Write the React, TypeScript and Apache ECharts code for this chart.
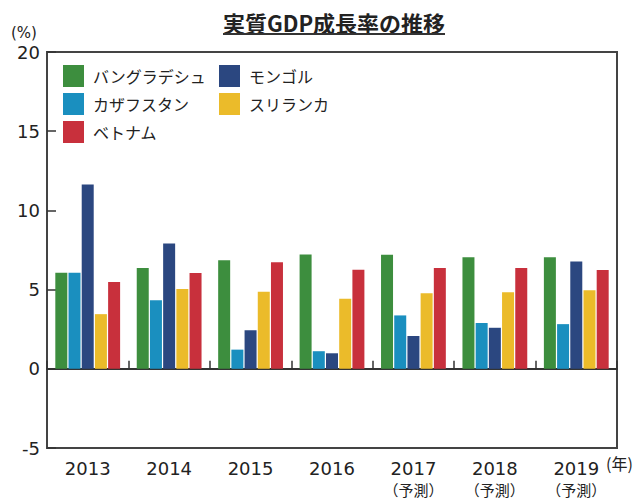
import React, { useEffect, useRef } from "react";
import * as echarts from "echarts";

const years = ["2013", "2014", "2015", "2016", "2017", "2018", "2019"];
const forecastYears = ["2017", "2018", "2019"];
const seriesNames = ["バングラデシュ", "カザフスタン", "モンゴル", "スリランカ", "ベトナム"];
const bangladesh = [6.07, 6.36, 6.86, 7.22, 7.2, 7.05, 7.05];
const kazakhstan = [6.07, 4.33, 1.21, 1.11, 3.37, 2.89, 2.82];
const mongolia = [11.63, 7.91, 2.43, 0.98, 2.07, 2.59, 6.78];
const sriLanka = [3.45, 5.04, 4.87, 4.43, 4.77, 4.83, 4.96];
const vietnam = [5.48, 6.05, 6.72, 6.26, 6.36, 6.36, 6.23];
const yTicks = { min: -5, max: 20, interval: 5 };
const colors = ["#3d8e3e", "#1a8fbf", "#2b4780", "#ebbb2a", "#c8303c"];

export default function App() {
  const ref = useRef<HTMLDivElement>(null);
  useEffect(() => {
    if (!ref.current) return;
    const chart = echarts.init(ref.current, null, { renderer: "svg" });
    const values = [bangladesh, kazakhstan, mongolia, sriLanka, vietnam];
    const numFont = "'DejaVu Sans', sans-serif";
    const cjkFont = "'Noto Sans CJK JP', sans-serif";
    chart.setOption({
      animation: false,
      color: colors,
      grid: {
        left: 47,
        right: 27,
        top: 52,
        bottom: 48,
        show: true,
        borderColor: "#444",
        borderWidth: 2,
        backgroundColor: "transparent",
      },
      legend: [
        {
          orient: "vertical",
          left: 63,
          top: 65,
          padding: 0,
          itemWidth: 21,
          itemHeight: 22,
          itemGap: 6,
          icon: "rect",
          data: [seriesNames[0], seriesNames[1], seriesNames[4]],
          textStyle: { fontSize: 16, fontFamily: cjkFont, color: "#222", padding: [0, 0, 0, 4] },
        },
        {
          orient: "vertical",
          left: 219,
          top: 65,
          padding: 0,
          itemWidth: 21,
          itemHeight: 22,
          itemGap: 6,
          icon: "rect",
          data: [seriesNames[2], seriesNames[3]],
          textStyle: { fontSize: 16, fontFamily: cjkFont, color: "#222", padding: [0, 0, 0, 4] },
        },
      ],
      xAxis: [
        {
          type: "category",
          data: years,
          position: "bottom",
          axisLine: { show: false, onZero: false },
          axisTick: { show: false },
          axisLabel: {
            interval: 0,
            margin: 10,
            color: "#222",
            fontSize: 18,
            fontFamily: numFont,
            lineHeight: 21,
            formatter: (v: string) =>
              forecastYears.includes(v) ? v + "\n{s|（予測）}" : v,
            rich: {
              s: { fontSize: 15, fontFamily: cjkFont, color: "#222", lineHeight: 21 },
            },
          },
        },
        {
          type: "category",
          data: years,
          position: "bottom",
          axisLine: { show: true, onZero: true, lineStyle: { color: "#333", width: 2 } },
          axisTick: { show: true, inside: true, interval: 0, length: 8, lineStyle: { color: "#333", width: 1.5 } },
          axisLabel: { show: false },
        },
      ],
      yAxis: {
        type: "value",
        min: yTicks.min,
        max: yTicks.max,
        interval: yTicks.interval,
        axisLine: { show: false },
        axisTick: { show: true, inside: true, length: 9, lineStyle: { color: "#333", width: 1.5 } },
        splitLine: { show: false },
        axisLabel: { margin: 7, color: "#222", fontSize: 18, fontFamily: numFont },
      },
      series: seriesNames.map((name, i) => ({
        name,
        type: "bar",
        xAxisIndex: 0,
        yAxisIndex: 0,
        data: values[i],
        barWidth: 12,
        barGap: "10%",
      })),
      graphic: [
        {
          type: "text",
          x: 334,
          y: 22,
          style: {
            text: "実質GDP成長率の推移",
            fontSize: 22,
            fontWeight: "bold",
            fontFamily: cjkFont,
            fill: "#222",
            textAlign: "center",
            textVerticalAlign: "middle",
          },
        },
        {
          type: "line",
          shape: { x1: 223, y1: 34, x2: 445, y2: 34 },
          style: { stroke: "#333", lineWidth: 2 },
        },
        {
          type: "text",
          x: 11,
          y: 33,
          style: {
            text: "(%)",
            fontSize: 15,
            fontFamily: numFont,
            fill: "#222",
            textVerticalAlign: "middle",
          },
        },
        {
          type: "text",
          x: 606,
          y: 463,
          style: {
            text: "(年)",
            fontSize: 16,
            fontFamily: cjkFont,
            fill: "#222",
            textVerticalAlign: "middle",
          },
        },
      ],
    });
    return () => chart.dispose();
  }, []);
  return (
    <div
      ref={ref}
      style={{ position: "absolute", left: 0, top: 0, width: 644, height: 500, background: "#fff" }}
    />
  );
}
